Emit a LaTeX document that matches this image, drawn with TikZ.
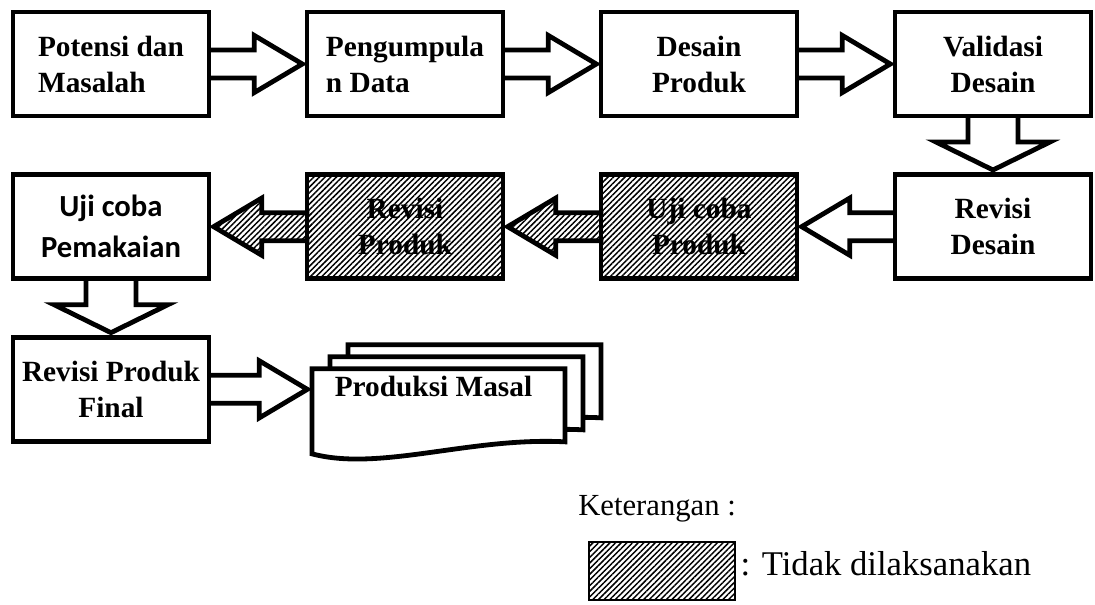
\documentclass[tikz,border=0pt]{standalone}
\usepackage{fontspec}
\setmainfont{Liberation Serif}
\newfontfamily\calibrifont{Carlito}
\usepackage{tikz}
\usetikzlibrary{positioning,calc,patterns.meta,backgrounds}

\tikzset{
    hatch/.style={pattern={Lines[angle=45,distance=3pt,line width=1.1pt]}},
    blockline/.style={draw=black, line width=3.6pt, line join=miter}
}

% block arrow: [fill] {from} {to} {shaft half width} {head half width} {head length}
\newcommand{\blockarrow}[6][fill=white]{%
    \path (#2) coordinate (ba-s) (#3) coordinate (ba-e);
    \path ($(ba-e)!3.5pt!(ba-s)$) coordinate (ba-t);
    \path ($(ba-t)!#6!(ba-s)$) coordinate (ba-h)
          ($(ba-s)!-4pt!(ba-t)$) coordinate (ba-b)
          ($(ba-s)!-1.8pt!(ba-t)$) coordinate (ba-c);
    \fill[#1] ($(ba-b)!#4!90:(ba-t)$) -- ($(ba-h)!#4!90:(ba-t)$) -- ($(ba-h)!#5!90:(ba-t)$) -- (ba-t)
        -- ($(ba-h)!#5!-90:(ba-t)$) -- ($(ba-h)!#4!-90:(ba-t)$) -- ($(ba-b)!#4!-90:(ba-t)$) -- cycle;
    \draw[blockline] ($(ba-c)!#4!90:(ba-t)$) -- ($(ba-h)!#4!90:(ba-t)$) -- ($(ba-h)!#5!90:(ba-t)$) -- (ba-t)
        -- ($(ba-h)!#5!-90:(ba-t)$) -- ($(ba-h)!#4!-90:(ba-t)$) -- ($(ba-c)!#4!-90:(ba-t)$);
}

\begin{document}
\begin{tikzpicture}[
    font=\fontsize{22}{27}\selectfont\bfseries,
    every node/.style={align=center},
    stage/.style={rectangle, draw=black, fill=white, line width=3.6pt, minimum width=147pt, minimum height=78pt, outer sep=0pt, inner sep=2pt},
    skipped/.style={stage, hatch},
    pages/.style={draw=black, fill=white, line width=3.6pt, line join=miter},
    legendbox/.style={rectangle, draw=black, line width=0.8pt, hatch, minimum width=109.5pt, minimum height=43.5pt, outer sep=0pt},
    legendtext/.style={font=\normalfont\fontsize{23}{28}\selectfont}
]
    \useasboundingbox (0,0) rectangle (821.25pt,-453pt);

    % row 1
    \node[stage, anchor=north west, align=left] (potensi) at (9.75pt,-9pt) {Potensi dan\\Masalah};
    \node[stage, right=73.5pt of potensi, align=left] (pengumpulan) {Pengumpula\\n Data};
    \node[stage, right=73.5pt of pengumpulan] (desain) {Desain\\Produk};
    \node[stage, right=73.5pt of desain] (validasi) {Validasi\\Desain};

    % row 2
    \node[stage, below=44pt of validasi] (revdesain) {Revisi\\Desain};
    \node[skipped, left=73.5pt of revdesain] (ujiproduk) {Uji coba\\Produk};
    \node[skipped, left=73.5pt of ujiproduk] (revproduk) {Revisi\\Produk};
    \node[stage, left=73.5pt of revproduk, font=\calibrifont\fontsize{23}{31}\selectfont\bfseries] (ujipakai) {Uji coba\\Pemakaian};

    % row 3
    \node[stage, below=44pt of ujipakai] (revfinal) {Revisi Produk\\Final};
    \node[rectangle, minimum width=189.75pt, minimum height=63.75pt, outer sep=0pt, right=77.25pt of revfinal, yshift=-16.5pt] (masal) {};
    \foreach \dx/\dy in {27/18, 13.5/9, 0/0}
        \draw[pages, shift={($(masal.south west)+(\dx pt,\dy pt)$)}] (0,0) -- (0,63.75pt) -- (189.75pt,63.75pt) -- (189.75pt,9pt)
            .. controls (118.5pt,12.75pt) and (51pt,-13.5pt) .. cycle;
    \node[anchor=base] (masaltext) at ([shift={(-3.75pt,-21pt)}]masal.north) {Produksi Masal};

    % connectors
    \begin{scope}[on background layer]
        \blockarrow{potensi.east}{pengumpulan.west}{10.5pt}{21.4pt}{36pt}
        \blockarrow{pengumpulan.east}{desain.west}{10.5pt}{21.4pt}{36pt}
        \blockarrow{desain.east}{validasi.west}{10.5pt}{21.4pt}{36pt}
        \blockarrow{validasi.south}{revdesain.north}{18.75pt}{42.75pt}{21pt}
        \blockarrow{revdesain.west}{ujiproduk.east}{10.5pt}{21.4pt}{36pt}
        \blockarrow{ujipakai.south}{revfinal.north}{18.75pt}{42.75pt}{21pt}
        \blockarrow{revfinal.east}{revfinal.east -| masal.west}{10.5pt}{21.4pt}{36pt}
    \end{scope}
    \blockarrow[hatch]{ujiproduk.west}{revproduk.east}{10.5pt}{21.4pt}{36pt}
    \blockarrow[hatch]{revproduk.west}{ujipakai.east}{10.5pt}{21.4pt}{36pt}

    % legend
    \node[legendbox, anchor=north west] (lgbox) at (441.75pt,-406.5pt) {};
    \node[legendtext, anchor=base west, inner sep=0pt] (lgtitle) at ([shift={(-8.25pt,20.25pt)}]lgbox.north west) {Keterangan :};
    \node[legendtext, font=\normalfont\fontsize{26}{31}\selectfont, anchor=base west, inner sep=0pt] (lgnote) at ([shift={(4pt,-3pt)}]lgbox.east) {: Tidak dilaksanakan};
\end{tikzpicture}
\end{document}
